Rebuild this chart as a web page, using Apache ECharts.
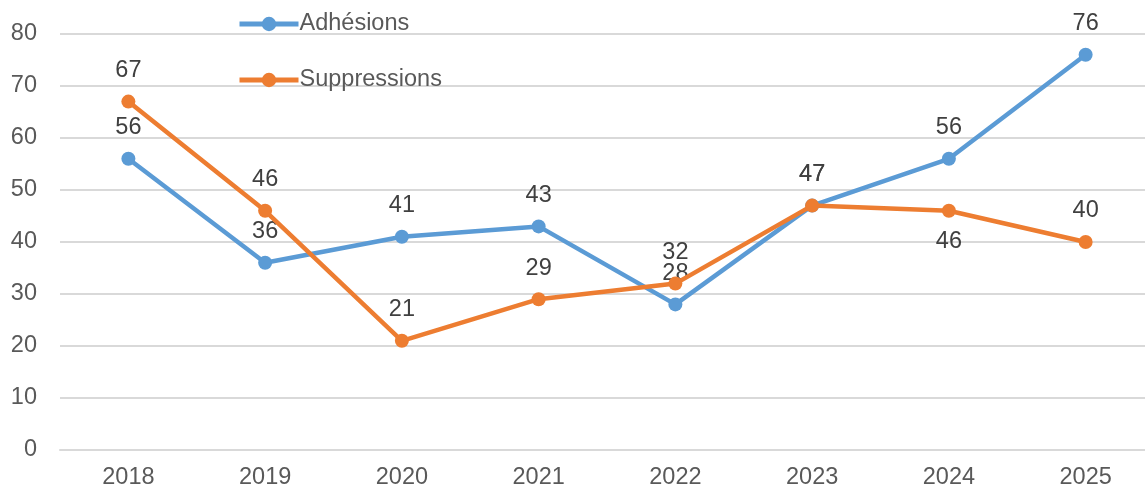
<!DOCTYPE html>
<html><head><meta charset="utf-8">
<script src="https://cdn.jsdelivr.net/npm/echarts@6/dist/echarts.min.js"></script>
<style>html,body{margin:0;padding:0;background:#fff}#c{width:1145px;height:490px}</style>
</head><body><div id="c"></div>
<script>
const years = ['2018','2019','2020','2021','2022','2023','2024','2025'];
const adhesions = [56,36,41,43,28,47,56,76];
const suppressions = [67,46,21,29,32,47,46,40];
const yTicks = {min:0, max:80, interval:10};

const chart = echarts.init(document.getElementById('c'), null, {renderer:'canvas'});
const font = 'Liberation Sans, Arial, sans-serif';
const FS = 23.5;
const lblStyle = {show:true, position:'top', distance:12, fontSize:FS, color:'#404040', fontFamily:font};
chart.setOption({
  animation:false,
  grid:{left:60, width:1094, top:34, bottom:40, containLabel:false, outerBoundsMode:'none'},
  legend:{
    orient:'vertical', left:237, top:12, padding:0, itemGap:32, itemWidth:59, itemHeight:18,
    lineStyle:{width:5},
    textStyle:{fontSize:FS, lineHeight:24, color:'#595959', fontFamily:font, padding:[0,0,0,-4]},
    data:['Adhésions','Suppressions']
  },
  xAxis:{type:'category', data:years, boundaryGap:true,
    axisLine:{show:true, lineStyle:{color:'#d9d9d9', width:2}}, axisTick:{show:false},
    axisLabel:{fontSize:FS, color:'#595959', fontFamily:font, margin:16}},
  yAxis:{type:'value', min:yTicks.min, max:yTicks.max, interval:yTicks.interval,
    axisLine:{show:false}, axisTick:{show:false},
    splitLine:{lineStyle:{color:'#d9d9d9', width:2}},
    axisLabel:{fontSize:FS, color:'#595959', fontFamily:font, margin:23}},
  series:[
    {name:'Adhésions', type:'line', data:adhesions, color:'#5B9BD5',
     lineStyle:{width:4.5, color:'#5B9BD5'}, symbol:'circle', symbolSize:14,
     itemStyle:{color:'#5B9BD5'}, label:lblStyle, z:2},
    {name:'Suppressions', type:'line', color:'#ED7D31',
     data:suppressions.map((v,i)=> i===6 ? {value:v, label:{position:'bottom'}} : v),
     lineStyle:{width:4.5, color:'#ED7D31'}, symbol:'circle', symbolSize:14,
     itemStyle:{color:'#ED7D31'}, label:lblStyle, z:3}
  ]
});
</script></body></html>
